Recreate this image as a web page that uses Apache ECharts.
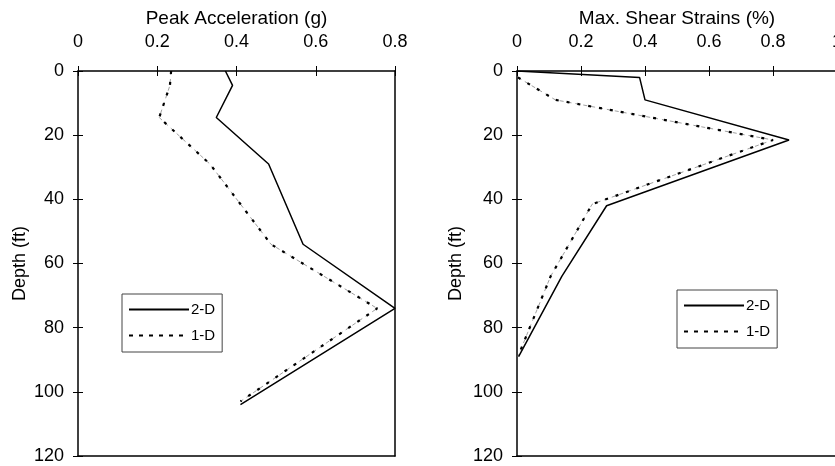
<!DOCTYPE html>
<html>
<head>
<meta charset="utf-8">
<script src="https://cdn.jsdelivr.net/npm/echarts@6/dist/echarts.min.js"></script>
<style>
html,body{margin:0;padding:0;background:#fff;}
#chart{width:835px;height:466px;}
</style>
</head>
<body>
<div id="chart"></div>
<script>
// Left panel: Peak Acceleration (g) vs Depth (ft)
var accDepth2D = [0, 4.5, 14.5, 29, 54, 74, 104];
var acc2D      = [0.372, 0.39, 0.349, 0.481, 0.568, 0.80, 0.41];
var accDepth1D = [0, 4.5, 14.5, 29, 54, 74, 103];
var acc1D      = [0.235, 0.232, 0.205, 0.333, 0.487, 0.755, 0.41];

// Right panel: Max. Shear Strains (%) vs Depth (ft)
var strDepth2D = [0, 2, 9, 21.5, 42, 64, 89];
var str2D      = [0, 0.383, 0.40, 0.85, 0.28, 0.14, 0.005];
var strDepth1D = [2, 9, 21.5, 41.5, 64, 89];
var str1D      = [0.003, 0.12, 0.80, 0.235, 0.105, 0.003];

var accTicks = [0, 0.8, 0.2];   // min, max, interval
var strTicks = [0, 1, 0.2];
var depthTicks = [0, 120, 20];
var seriesNames = ['2-D', '1-D'];

function pairs(xs, ys){ return xs.map(function(x,i){ return [x, ys[i]]; }); }

var FONT = "'Liberation Sans', Arial, sans-serif";
var axisColor = '#000';

function topAxis(grid, t, name, withLabels){
  var a = {
    gridIndex: grid, type: 'value', position: 'top',
    min: t[0], max: t[1], interval: t[2],
    splitLine: {show: false}
  };
  if (withLabels){
    a.name = name; a.nameLocation = 'middle'; a.nameGap = 43;
    a.nameTextStyle = {fontSize: 19, color: '#000', fontFamily: FONT};
    a.axisLine = {show: true, onZero: false, lineStyle: {color: axisColor, width: 1.5}};
    a.axisTick = {show: true, inside: false, length: 5, lineStyle: {color: axisColor, width: 1}};
    a.axisLabel = {show: true, fontSize: 18, color: '#000', fontFamily: FONT, margin: 20, showMaxLabel: true};
  } else {
    a.axisLine = {show: false, onZero: false};
    a.axisTick = {show: true, inside: true, length: 5, lineStyle: {color: axisColor, width: 1}};
    a.axisLabel = {show: false};
  }
  return a;
}
function leftAxis(grid, withLabels, gap){
  var t = depthTicks;
  var a = {
    gridIndex: grid, type: 'value', position: 'left', inverse: true,
    min: t[0], max: t[1], interval: t[2],
    splitLine: {show: false}
  };
  if (withLabels){
    a.name = 'Depth (ft)'; a.nameLocation = 'middle'; a.nameGap = gap; a.nameRotate = 90;
    a.nameTextStyle = {fontSize: 18, color: '#000', fontFamily: FONT};
    a.axisLine = {show: true, onZero: false, lineStyle: {color: axisColor, width: 1.5}};
    a.axisTick = {show: true, inside: false, length: 5, lineStyle: {color: axisColor, width: 1}};
    a.axisLabel = {show: true, fontSize: 18, color: '#000', fontFamily: FONT, margin: 14};
  } else {
    a.axisLine = {show: false, onZero: false};
    a.axisTick = {show: true, inside: true, length: 5, lineStyle: {color: axisColor, width: 1}};
    a.axisLabel = {show: false};
  }
  return a;
}
function borderAxisX(grid, t){
  return {gridIndex: grid, type: 'value', position: 'bottom', min: t[0], max: t[1], interval: t[2],
    axisLine: {show: true, onZero: false, lineStyle: {color: axisColor, width: 1.5}},
    axisTick: {show: false}, axisLabel: {show: false}, splitLine: {show: false}};
}
function borderAxisY(grid){
  var t = depthTicks;
  return {gridIndex: grid, type: 'value', position: 'right', inverse: true, min: t[0], max: t[1], interval: t[2],
    axisLine: {show: true, onZero: false, lineStyle: {color: axisColor, width: 1.5}},
    axisTick: {show: false}, axisLabel: {show: false}, splitLine: {show: false}};
}

function legendAt(left, top){
  return {
    orient: 'vertical', left: left, top: top,
    data: [
      {name: seriesNames[0], itemStyle: {opacity: 0}},
      {name: seriesNames[1], itemStyle: {opacity: 0}, lineStyle: {type: [4, 6], width: 2}}
    ],
    itemStyle: {opacity: 0},
    itemWidth: 60, itemHeight: 14, itemGap: 11,
    padding: [8, 7, 9, 6],
    borderColor: '#444', borderWidth: 1, backgroundColor: '#fff',
    textStyle: {fontSize: 15, color: '#000', fontFamily: FONT, padding: [0, 0, 0, -3]},
    selectedMode: false
  };
}

function solid(name, xi, yi, data){
  return {name: name, type: 'line', xAxisIndex: xi, yAxisIndex: yi, data: data,
    symbol: 'none', z: 4, silent: true, animation: false,
    lineStyle: {color: '#000', width: 1.5, type: 'solid'}};
}
function dotted(name, xi, yi, data){
  return {name: name, type: 'line', xAxisIndex: xi, yAxisIndex: yi, data: data,
    symbol: 'none', z: 3, silent: true, animation: false,
    lineStyle: {color: '#000', width: 2.2, type: [3, 8]}};
}
function trace(xi, yi, data){
  return {name: '1-D trace', type: 'line', xAxisIndex: xi, yAxisIndex: yi, data: data,
    symbol: 'none', z: 2, silent: true, animation: false,
    lineStyle: {color: '#888', width: 0.8, type: [4, 4]}};
}

var chart = echarts.init(document.getElementById('chart'), null, {renderer: 'canvas'});
chart.setOption({
  animation: false,
  backgroundColor: '#fff',
  textStyle: {fontFamily: FONT},
  grid: [
    {left: 78, top: 71, width: 317, height: 385, containLabel: false, outerBoundsMode: 'none'},
    {left: 517, top: 71, width: 320, height: 385, containLabel: false, outerBoundsMode: 'none'}
  ],
  xAxis: [
    topAxis(0, accTicks, 'Peak Acceleration (g)', true),
    topAxis(1, strTicks, 'Max. Shear Strains (%)', true),
    topAxis(0, accTicks, '', false),
    topAxis(1, strTicks, '', false),
    borderAxisX(0, accTicks),
    borderAxisX(1, strTicks)
  ],
  yAxis: [
    leftAxis(0, true, 49),
    leftAxis(1, true, 52),
    leftAxis(0, false),
    leftAxis(1, false),
    borderAxisY(0)
  ],
  legend: [
    legendAt(122, 294),
    legendAt(677, 290)
  ],
  series: [
    solid(seriesNames[0], 0, 0, pairs(acc2D, accDepth2D)),
    dotted(seriesNames[1], 0, 0, pairs(acc1D, accDepth1D)),
    trace(0, 0, pairs(acc1D, accDepth1D)),
    solid(seriesNames[0], 1, 1, pairs(str2D, strDepth2D)),
    dotted(seriesNames[1], 1, 1, pairs(str1D, strDepth1D)),
    trace(1, 1, pairs(str1D, strDepth1D))
  ]
});
</script>
</body>
</html>
